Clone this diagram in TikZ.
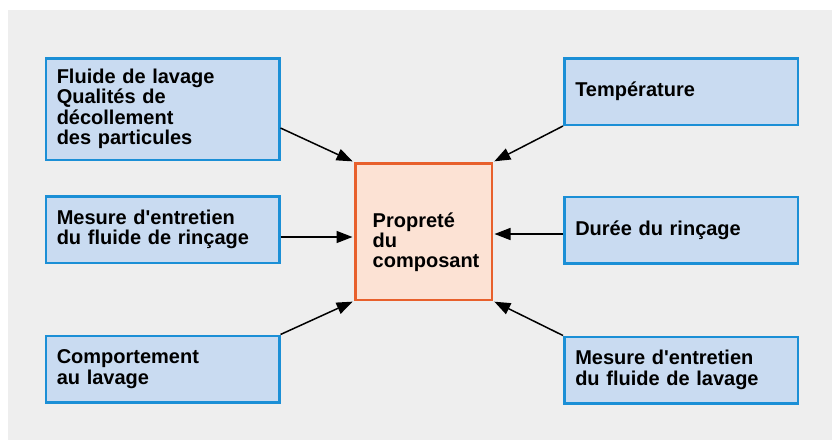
\documentclass[tikz,border=0pt]{standalone}
\usepackage{fontspec}
\setmainfont{Liberation Sans}[Ligatures=TeXOff]
\usetikzlibrary{arrows.meta,calc}
\definecolor{bggray}{HTML}{EEEEEE}
\definecolor{boxfill}{HTML}{C9DBF1}
\definecolor{boxline}{HTML}{1B8FD6}
\definecolor{cfill}{HTML}{FCE2D4}
\definecolor{cline}{HTML}{E8602C}
\begin{document}
\begin{tikzpicture}[x=1pt,y=-1pt,
  factor/.style={draw=boxline,fill=boxfill,line width=2.5pt,rectangle,
    minimum width=233.5pt,minimum height=66.5pt,inner xsep=11pt,inner ysep=0pt,
    text width=211.5pt,align=left,font=\bfseries\fontsize{20}{20.5}\selectfont},
  center/.style={draw=cline,fill=cfill,line width=2.5pt,rectangle,
    minimum width=136.5pt,minimum height=136.5pt,inner sep=0pt},
  ctext/.style={inner sep=0pt,align=left,font=\bfseries\fontsize{20}{20}\selectfont},
  arr/.style={line width=1.5pt,-{Triangle[length=16pt,width=12pt]},shorten >=1.5pt}
]
\useasboundingbox (0,0) rectangle (832,440);
\fill[white] (0,0) rectangle (832,440);
\fill[bggray] (8,10) rectangle (832,440);

\node[factor,minimum height=101.5pt] (l1) at (162.5,109) {Fluide de lavage\\Qualités de\\décollement\\des particules};
\node[factor] (l2) at (162.5,229.5) {Mesure d'entretien\\du fluide de rinçage};
\node[factor] (l3) at (162.5,369) {Comportement\\au lavage};
\node[factor] (r1) at (681,91.5) {Température};
\node[factor] (r2) at (681,230) {Durée du rinçage};
\node[factor] (r3) at (681,370) {Mesure d'entretien\\du fluide de lavage};

\node[center] (c) at (423.5,231.5) {};
\node[ctext,anchor=west] (ct) at ($(c.west)+(18.5,11)$) {Propreté\\du\\composant};

\draw[arr] ($(l1.south east)+(0,-33)$) -- (c.north west);
\draw[arr] ([yshift=-7.5pt]l2.east) -- ([yshift=-7.5pt]l2.east -| c.west);
\draw[arr] (l3.north east) -- (c.south west);
\draw[arr] (r1.south west) -- (c.north east);
\draw[arr] ([yshift=-4pt]r2.west) -- ([yshift=-4pt]r2.west -| c.east);
\draw[arr] (r3.north west) -- (c.south east);
\end{tikzpicture}
\end{document}
